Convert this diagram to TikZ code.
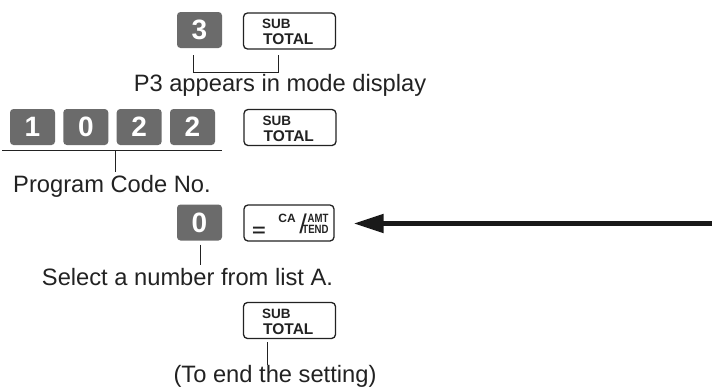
\documentclass[tikz,border=0pt]{standalone}
\usepackage{fontspec}
\setmainfont{Liberation Sans}
\usetikzlibrary{arrows.meta,calc}
\definecolor{keygray}{HTML}{6B6B6B}
\definecolor{ink}{HTML}{222222}
\newcommand{\narrow}[1]{\scalebox{0.8}[1]{#1}}
\begin{document}
\begin{tikzpicture}[x=1pt,y=1pt,
  digitkey/.style={fill=keygray,rounded corners=3.5pt,minimum width=45pt,minimum height=36pt,inner sep=0pt,text=white,font=\bfseries\fontsize{28}{28}\selectfont},
  fnkey/.style={draw=ink,line width=1.3pt,fill=white,rounded corners=4pt,minimum height=36pt,minimum width=92pt,inner sep=0pt},
  subl/.style={font=\bfseries\fontsize{13.5}{13.5}\selectfont,text=ink,inner sep=0pt,anchor=base west},
  totl/.style={font=\bfseries\fontsize{15.5}{15.5}\selectfont,text=ink,inner sep=0pt,anchor=base west},
  small/.style={font=\bfseries\fontsize{12}{12}\selectfont,text=ink,inner sep=0pt,anchor=base},
  caption/.style={font=\fontsize{23.7}{28}\selectfont,text=ink,inner sep=0pt,anchor=base},
  leader/.style={draw=ink,line width=0.9pt}
]
\useasboundingbox (0,0) rectangle (712,-389);

% row 1
\node[digitkey] (k3) at (199.5,-30) {3};
\node[fnkey] (st1) at (289.5,-31) {};
\node[subl] (st1a) at ($(st1.center)+(-27.5,2.5)$) {SUB};
\node[totl] (st1b) at ($(st1.center)+(-26.5,-13.5)$) {TOTAL};
\coordinate (b1l) at (193,-55);
\coordinate (b1r) at (278,-55);
\draw[leader] (b1l) -- ++(0,-17) -| (b1r);
\node[caption] (t1) at (280,-91) {P3 appears in mode display};

% row 2
\node[digitkey] (d1) at (32.5,-127) {1};
\node[digitkey] (d2) at (85.8,-127) {0};
\node[digitkey] (d3) at (139.2,-127) {2};
\node[digitkey] (d4) at (192.5,-127) {2};
\node[fnkey] (st2) at (290,-127.5) {};
\node[subl] (st2a) at ($(st2.center)+(-27.5,2.5)$) {SUB};
\node[totl] (st2b) at ($(st2.center)+(-26.5,-13.5)$) {TOTAL};
\coordinate (u1) at (2,-150);
\coordinate (u2) at (222,-150);
\coordinate (u3) at (115,-150);
\draw[leader] (u1) -- (u2);
\draw[leader] (u3) -- ++(0,-22);
\node[caption,anchor=base west] (t2) at (13,-192) {Program Code No.};

% row 3
\node[digitkey] (k0) at (199.5,-222.5) {0};
\node[fnkey,minimum width=90pt] (ca) at (289,-223) {};
\node[font=\bfseries\fontsize{18}{18}\selectfont,text=ink,inner sep=0pt] (eq) at ($(ca.center)+(-30,-8.5)$) {\scalebox{1.3}[1]{=}};
\node[small] (cat) at ($(ca.center)+(-2,1)$) {CA};
\node[font=\fontsize{27}{27}\selectfont,text=ink,inner sep=0pt,anchor=base] (sl) at ($(ca.center)+(14,-10.5)$) {/};
\node[small] (amt) at ($(ca.center)+(29,1)$) {\narrow{AMT}};
\node[small] (tend) at ($(ca.center)+(26.5,-10)$) {\narrow{TEND}};
\coordinate (arrstart) at (712,-223.5);
\draw[draw=black!90,line width=5pt,-{Triangle[length=30pt,width=18pt]},shorten >=19pt] (arrstart) -- (ca.east |- arrstart);
\draw[leader] ($(k0.south)+(1.2,-4)$) -- ++(0,-20);
\node[caption] (t3) at (187.5,-285) {Select a number from list A.};

% row 4
\node[fnkey] (st3) at (289.5,-320.5) {};
\node[subl] (st3a) at ($(st3.center)+(-27.5,2.5)$) {SUB};
\node[totl] (st3b) at ($(st3.center)+(-26.5,-13.5)$) {TOTAL};
\draw[leader] (267,-342) -- (267,-365);
\node[caption] (t4) at (275,-382) {(To end the setting)};
\end{tikzpicture}
\end{document}
